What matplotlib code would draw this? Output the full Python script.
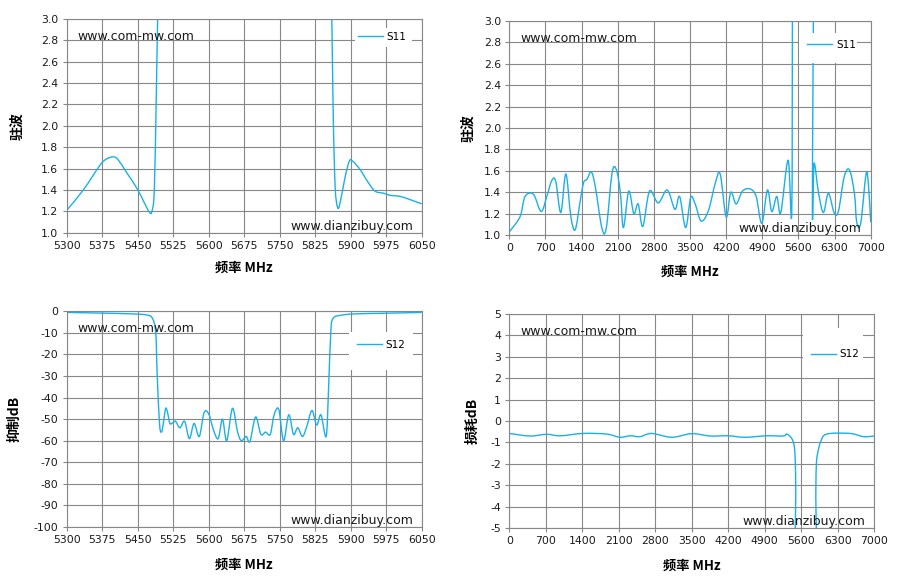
import matplotlib
matplotlib.use("Agg")
import matplotlib.pyplot as plt
from matplotlib.path import Path
from matplotlib.patches import PathPatch, Rectangle
import numpy as np

plt.rcParams.update({"font.size": 7.8, "font.family": ["DejaVu Sans"]})

# S11 驻波, 5300-6050 MHz
s11_nb_f = [5300, 5335, 5370, 5384, 5399, 5409, 5427, 5449, 5465, 5475, 5480, 5485, 5489, 5492, 5496,
            5856, 5860, 5863, 5867, 5872, 5877, 5888, 5897, 5904, 5920, 5934, 5951, 5969, 5983, 6004, 6025, 6050]
s11_nb_v = [1.21, 1.40, 1.63, 1.69, 1.71, 1.68, 1.56, 1.41, 1.27, 1.19, 1.20, 1.40, 2.24, 3.0, 3.8,
            3.8, 3.0, 2.09, 1.43, 1.24, 1.27, 1.52, 1.67, 1.67, 1.59, 1.49, 1.39, 1.37, 1.35, 1.34, 1.31, 1.27]

# S11 驻波, 0-7000 MHz
s11_wb_f = [0, 207, 305, 467, 616, 726, 823, 900, 998, 1095, 1192, 1277, 1374, 1439, 1504, 1588, 1666,
            1795, 1880, 1990, 2074, 2152, 2210, 2314, 2411, 2495, 2586, 2716, 2884, 3059, 3208, 3299,
            3415, 3513, 3600, 3716, 3858, 3987, 4084, 4200, 4290, 4394, 4516, 4664, 4781, 4890, 5000,
            5084, 5180, 5258, 5400, 5470, 5484, 5495,
            5860, 5870, 5903, 5987, 6083, 6180, 6290, 6374, 6484, 6587, 6684, 6729, 6806, 6910, 6954, 7000]
s11_wb_v = [1.03, 1.17, 1.36, 1.38, 1.22, 1.36, 1.51, 1.50, 1.21, 1.57, 1.17, 1.05, 1.32, 1.49, 1.52, 1.59, 1.45,
            1.06, 1.07, 1.58, 1.61, 1.39, 1.07, 1.41, 1.20, 1.29, 1.08, 1.41, 1.30, 1.42, 1.24, 1.36,
            1.07, 1.35, 1.29, 1.13, 1.23, 1.48, 1.57, 1.17, 1.40, 1.29, 1.41, 1.43, 1.36, 1.11, 1.42,
            1.22, 1.36, 1.21, 1.70, 1.20, 3.2, 4.0,
            4.0, 1.25, 1.67, 1.40, 1.21, 1.39, 1.21, 1.22, 1.54, 1.61, 1.39, 1.12, 1.11, 1.57, 1.48, 1.12]

# S12 抑制, 5300-6050 MHz
s12_nb_f = [5300, 5370, 5441, 5469, 5481, 5488, 5491, 5496, 5500, 5504, 5509, 5513, 5518, 5524, 5530, 5539,
            5549, 5559, 5569, 5580, 5590, 5600, 5610, 5620, 5629, 5638, 5650, 5661, 5669, 5679, 5687,
            5699, 5710, 5720, 5730, 5738, 5748, 5758, 5769, 5779, 5788, 5798, 5807, 5818, 5828, 5837,
            5848, 5853, 5858, 5863, 5877, 5906, 5969, 6050]
s12_nb_v = [-0.5, -0.8, -1.2, -1.7, -3.2, -10, -29, -52, -56, -52, -45, -47, -52, -51.6, -51, -54,
            -51, -59, -52, -58, -47, -47.6, -55, -59, -50, -60, -45, -56, -60, -58, -60.3,
            -49, -57, -56, -57, -48, -45.5, -60, -48, -57, -54, -58, -53.5, -46, -52.7, -48,
            -58, -36.5, -8.7, -3.2, -1.9, -1.2, -0.9, -0.5]

# S12 损耗, 0-7000 MHz
s12_wb_f = [0, 396, 716, 972, 1419, 1867, 2122, 2314, 2506, 2730, 3113, 3497, 3849, 4200, 4520, 4935,
            5255, 5319, 5415, 5466, 5485, 5494, 5500, 5870, 5878, 5890, 5914, 5971, 6086, 6534, 6789, 7000]
s12_wb_v = [-0.58, -0.70, -0.62, -0.69, -0.58, -0.61, -0.76, -0.69, -0.73, -0.58, -0.76, -0.59, -0.70, -0.69,
            -0.76, -0.69, -0.70, -0.61, -0.81, -1.2, -2.0, -3.5, -8, -8, -3.5, -2.0, -1.5, -0.97, -0.61,
            -0.58, -0.73, -0.70]

line_color = "#1ab0e8"
grid_color = "#878787"
cjk = ["Noto Sans CJK SC", "DejaVu Sans"]


def smooth_path(x, y):
    # Excel-style smoothed line: cubic Bezier segments through the points
    pts = np.column_stack([x, y]).astype(float)
    n = len(pts)
    verts = [pts[0]]
    codes = [Path.MOVETO]
    for i in range(n - 1):
        p0 = pts[max(i - 1, 0)]
        p1 = pts[i]
        p2 = pts[i + 1]
        p3 = pts[min(i + 2, n - 1)]
        verts += [p1 + (p2 - p0) / 6, p2 - (p3 - p1) / 6, p2]
        codes += [Path.CURVE4] * 3
    return Path(verts, codes)


fig = plt.figure(figsize=(8.97, 5.85), dpi=100)

panels = [
    # rect, f, v, name, ylim, yticks, fmt, ylabel, xlim, xticks, legend centre, legend box, ylabel x, xlabel y
    ([0.0744, 0.6022, 0.3958, 0.3653], s11_nb_f, s11_nb_v, "S11", (1.0, 3.0), np.arange(1.0, 3.01, 0.2), "%.1f",
     "驻波", (5300, 6050), np.arange(5300, 6051, 75), (0.889, 0.916), (0.812, 0.869, 0.161, 0.089), -0.14, -0.165),
    ([0.5678, 0.5983, 0.4029, 0.3658], s11_wb_f, s11_wb_v, "S11", (1.0, 3.0), np.arange(1.0, 3.01, 0.2), "%.1f",
     "驻波", (0, 7000), np.arange(0, 7001, 700), (0.892, 0.888), (0.802, 0.804, 0.160, 0.140), -0.114, -0.173),
    ([0.0744, 0.0991, 0.3958, 0.3687], s12_nb_f, s12_nb_v, "S12", (-100, 0), np.arange(-100, 1, 10), "%d",
     "抑制dB", (5300, 6050), np.arange(5300, 6051, 75), (0.885, 0.844), (0.795, 0.728, 0.180, 0.176), -0.146, -0.176),
    ([0.5678, 0.0974, 0.4069, 0.3658], s12_wb_f, s12_wb_v, "S12", (-5, 5), np.arange(-5, 6, 1), "%d",
     "损耗dB", (0, 7000), np.arange(0, 7001, 700), (0.892, 0.812), (0.805, 0.701, 0.164, 0.234), -0.0995, -0.178),
]

for rect, f, v, name, ylim, yticks, fmt, ylabel, xlim, xticks, legpos, legbox, ylx, xly in panels:
    ax = fig.add_axes(rect)
    ax.add_patch(PathPatch(smooth_path(f, v), fill=False, ec=line_color, lw=1.0, zorder=2))
    ax.plot([], [], color=line_color, lw=1.0, label=name)
    ax.set_xlim(*xlim)
    ax.set_ylim(*ylim)
    ax.set_xticks(xticks)
    ax.set_yticks(yticks)
    ax.set_yticklabels([fmt % t for t in yticks])
    ax.grid(True, color=grid_color, lw=0.8)
    ax.set_axisbelow(True)
    for s in ax.spines.values():
        s.set_color(grid_color)
        s.set_linewidth(0.8)
    ax.tick_params(length=3, color=grid_color, width=0.8, labelcolor="#1a1a1a", pad=3)
    ax.set_ylabel(ylabel, family=cjk, fontweight="bold", fontsize=10, va="center")
    ax.yaxis.set_label_coords(ylx, 0.5)
    ax.set_xlabel("频率 MHz", family=cjk, fontweight="bold", fontsize=9.5, va="center")
    ax.xaxis.set_label_coords(0.5, xly)

    # white legend area that hides the grid and the curve
    ax.add_patch(Rectangle(legbox[:2], legbox[2], legbox[3], transform=ax.transAxes,
                           facecolor="white", edgecolor="none", zorder=4))
    ax.legend(loc="center", bbox_to_anchor=legpos, frameon=False, handlelength=2.4,
              handletextpad=0.35, borderpad=0, fontsize=7.5)
    ax.text(0.03, 0.92, "www.com-mw.com", transform=ax.transAxes, fontsize=9,
            color="#1a1a1a", va="center", ha="left", zorder=6)
    ax.text(0.975, 0.03, "www.dianzibuy.com", transform=ax.transAxes, fontsize=9,
            color="#1a1a1a", va="center", ha="right", zorder=6)

fig.savefig("out.png", dpi=100)
